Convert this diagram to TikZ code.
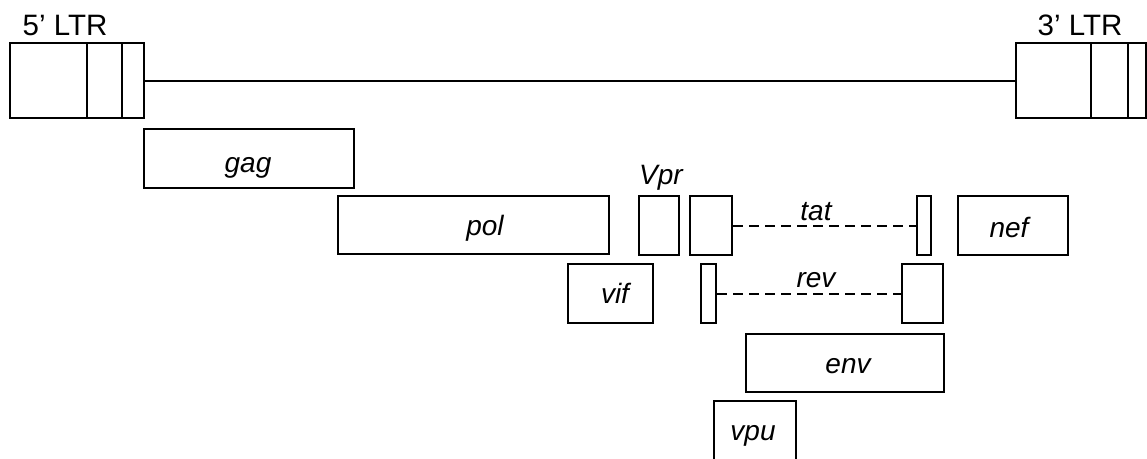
\documentclass[tikz,border=0pt]{standalone}
\usepackage{fontspec}
\setmainfont{Liberation Sans}
\usepackage{tikz}
\usetikzlibrary{positioning}

\begin{document}
\begin{tikzpicture}[x=1pt,y=-1pt,
        gene/.style={draw,line width=2.2pt,inner sep=0pt,anchor=north west},
        genelabel/.style={anchor=base,inner sep=0pt,font=\fontsize{28}{32}\selectfont\itshape},
        ltrlabel/.style={anchor=base,inner sep=0pt,font=\fontsize{29.5}{34}\selectfont},
        link/.style={line width=2.2pt},
        spliced/.style={line width=2.2pt,dash pattern=on 10pt off 6pt}
      ]
        \useasboundingbox (0,0) rectangle (1147,458);
        \clip (0,0) rectangle (1147,458);
        % long terminal repeats
        \node[gene,minimum width=134,minimum height=75] (ltr5) at (9,42) {};
        \node[gene,minimum width=130,minimum height=75] (ltr3) at (1015,42) {};
        \draw[link] ([xshift=78pt]ltr5.north west) -- ([xshift=78pt]ltr5.south west);
        \draw[link] ([xshift=113pt]ltr5.north west) -- ([xshift=113pt]ltr5.south west);
        \draw[link] ([xshift=76pt]ltr3.north west) -- ([xshift=76pt]ltr3.south west);
        \draw[link] ([xshift=113pt]ltr3.north west) -- ([xshift=113pt]ltr3.south west);
        \draw[link] (ltr5.east) -- (ltr3.west);
        \node[ltrlabel] (ltr5txt) at (65,35) {5’ LTR};
        \node[ltrlabel] (ltr3txt) at (1080,35) {3’ LTR};
        % genes
        \node[gene,minimum width=210,minimum height=59] (gag) at (143,128) {};
        \node[gene,minimum width=271,minimum height=58] (pol) at (337,195) {};
        \node[gene,minimum width=40,minimum height=59] (vpr) at (638,195) {};
        \node[gene,minimum width=42,minimum height=59] (tat1) at (689,195) {};
        \node[gene,minimum width=14,minimum height=59] (tat2) at (916,195) {};
        \node[gene,minimum width=110,minimum height=59] (nef) at (957,195) {};
        \node[gene,minimum width=85,minimum height=59] (vif) at (567,263) {};
        \node[gene,minimum width=15,minimum height=59] (rev1) at (700,263) {};
        \node[gene,minimum width=41,minimum height=59] (rev2) at (901,263) {};
        \node[gene,minimum width=198,minimum height=58] (env) at (745,333) {};
        \node[gene,minimum width=82,minimum height=80] (vpu) at (713,400) {};
        \draw[spliced] (tat1.east) -- (tat2.west);
        \draw[spliced] (rev1.east) -- (rev2.west);
        % gene names
        \node[genelabel] (gagtxt) at (248,172) {gag};
        \node[genelabel] (poltxt) at (485,235) {pol};
        \node[genelabel] (vprtxt) at (661,184) {Vpr};
        \node[genelabel] (tattxt) at (816,220) {tat};
        \node[genelabel] (neftxt) at (1009,237) {nef};
        \node[genelabel] (viftxt) at (615,303) {vif};
        \node[genelabel] (revtxt) at (816,287) {rev};
        \node[genelabel] (envtxt) at (848,373) {env};
        \node[genelabel] (vputxt) at (753,440) {vpu};
      \end{tikzpicture}
\end{document}
